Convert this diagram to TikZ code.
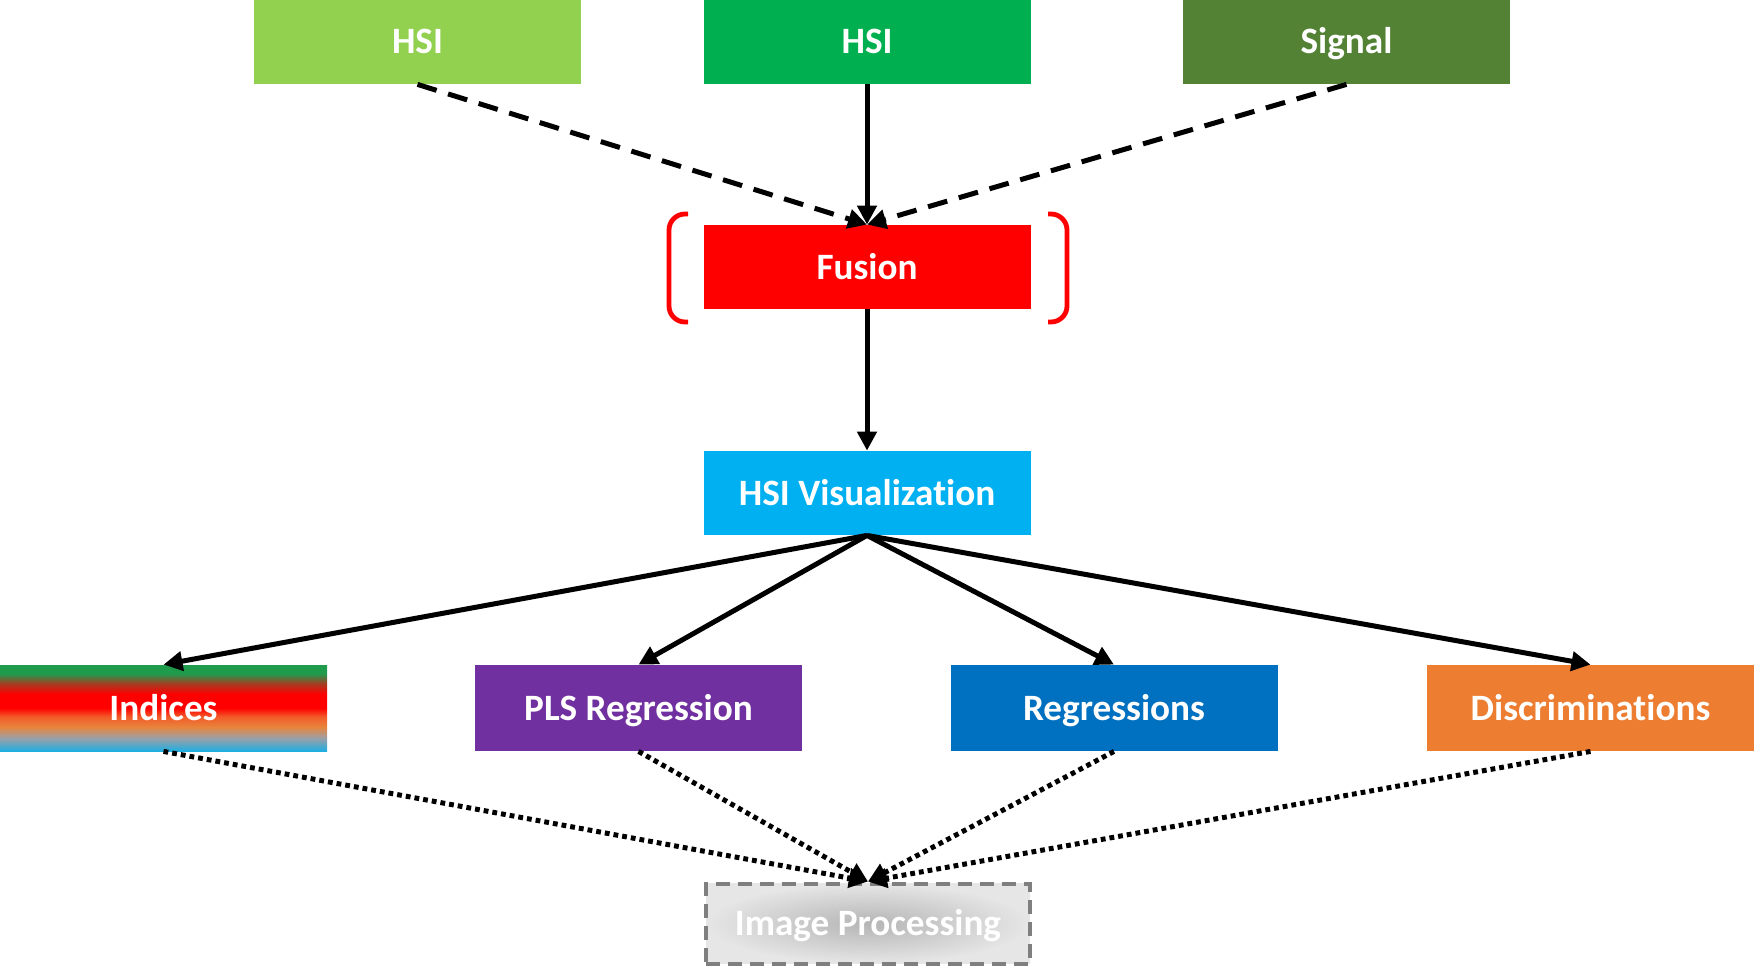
\documentclass[tikz,border=0pt]{standalone}
\usepackage{fontspec}
\setmainfont{Carlito}[Ligatures=NoCommon]
\usetikzlibrary{arrows.meta,shadings}
\definecolor{cHSIa}{HTML}{92D050}
\definecolor{cHSIb}{HTML}{00B050}
\definecolor{cSig}{HTML}{548235}
\definecolor{cFus}{HTML}{FF0000}
\definecolor{cVis}{HTML}{00B0F0}
\definecolor{cPLS}{HTML}{7030A0}
\definecolor{cReg}{HTML}{0070C0}
\definecolor{cDis}{HTML}{ED7D31}
\definecolor{ipgray}{HTML}{7F7F7F}
\definecolor{ipin}{HTML}{B5B5B5}
\definecolor{ipout}{HTML}{E6E6E6}
\definecolor{ig}{HTML}{1F9B4C}
\definecolor{ibr}{HTML}{A83A20}
\definecolor{ir}{HTML}{FF0000}
\definecolor{ir2}{HTML}{F25A28}
\definecolor{io}{HTML}{E8843C}
\definecolor{ib2}{HTML}{9AA0A8}
\definecolor{ib}{HTML}{1FAEE2}
\pgfdeclareverticalshading{indshade}{100bp}{color(0bp)=(ib); color(25bp)=(ib); color(32.5bp)=(ib2); color(39bp)=(io); color(45bp)=(ir2); color(50bp)=(ir); color(58bp)=(ir); color(64bp)=(ibr); color(70bp)=(ig); color(75bp)=(ig); color(100bp)=(ig)}
\tikzset{
  box/.style={minimum width=163.5pt, minimum height=42pt, inner sep=0pt, text=white,
    text height=15pt, text depth=3pt,
    font=\bfseries\fontsize{18.6}{22}\selectfont},
  arr/.style={line width=2.5pt, -{Triangle[length=9.5pt,width=9.5pt]}},
  dasharr/.style={arr, dash pattern=on 10pt off 6pt},
  dotarr/.style={arr, dash pattern=on 2.4pt off 2pt},
  brk/.style={draw=red, line width=2.4pt, rounded corners=8pt}
}
\begin{document}
\begin{tikzpicture}[x=0.5pt, y=-0.5pt]
\useasboundingbox (0,0) rectangle (1754,969);
% top row
\node[box, fill=cHSIa] (hsia) at (417.5,42) {HSI};
\node[box, fill=cHSIb] (hsib) at (867,42) {HSI};
\node[box, fill=cSig] (sig) at (1346.5,42) {Signal};
% fusion
\node[box, fill=cFus] (fus) at (867,267) {Fusion};
\draw[brk] (688,214) -- (669,214) -- (669,322) -- (688,322);
\draw[brk] (1048,214) -- (1067,214) -- (1067,322) -- (1048,322);
% visualization
\node[box, fill=cVis] (vis) at (867,493) {HSI Visualization};
% bottom row
\node[box, minimum height=43pt, shading=indshade] (ind) at (163.5,708) {Indices};
\node[box, minimum height=43pt, fill=cPLS] (pls) at (638.5,708) {PLS Regression};
\node[box, minimum height=43pt, fill=cReg] (reg) at (1114,708) {Regressions};
\node[box, minimum height=43pt, fill=cDis] (dis) at (1590.5,708) {Discriminations};
% image processing
\node[box, minimum width=162pt, minimum height=40pt, inner color=ipin, outer color=ipout,
  draw=ipgray, line width=2pt, dash pattern=on 7pt off 4pt] (ip) at (868,923.5) {Image Processing};
% connectors
\draw[dasharr] (hsia.south) -- (fus.north);
\draw[dasharr] (sig.south) -- (fus.north);
\draw[arr] (hsib.south) -- (fus.north);
\draw[arr] (fus.south) -- (vis.north);
\foreach \n in {ind,pls,reg,dis} {
  \draw[arr] (vis.south) -- (\n.north);
  \draw[dotarr] (\n.south) -- (ip.north);
}
\end{tikzpicture}
\end{document}
